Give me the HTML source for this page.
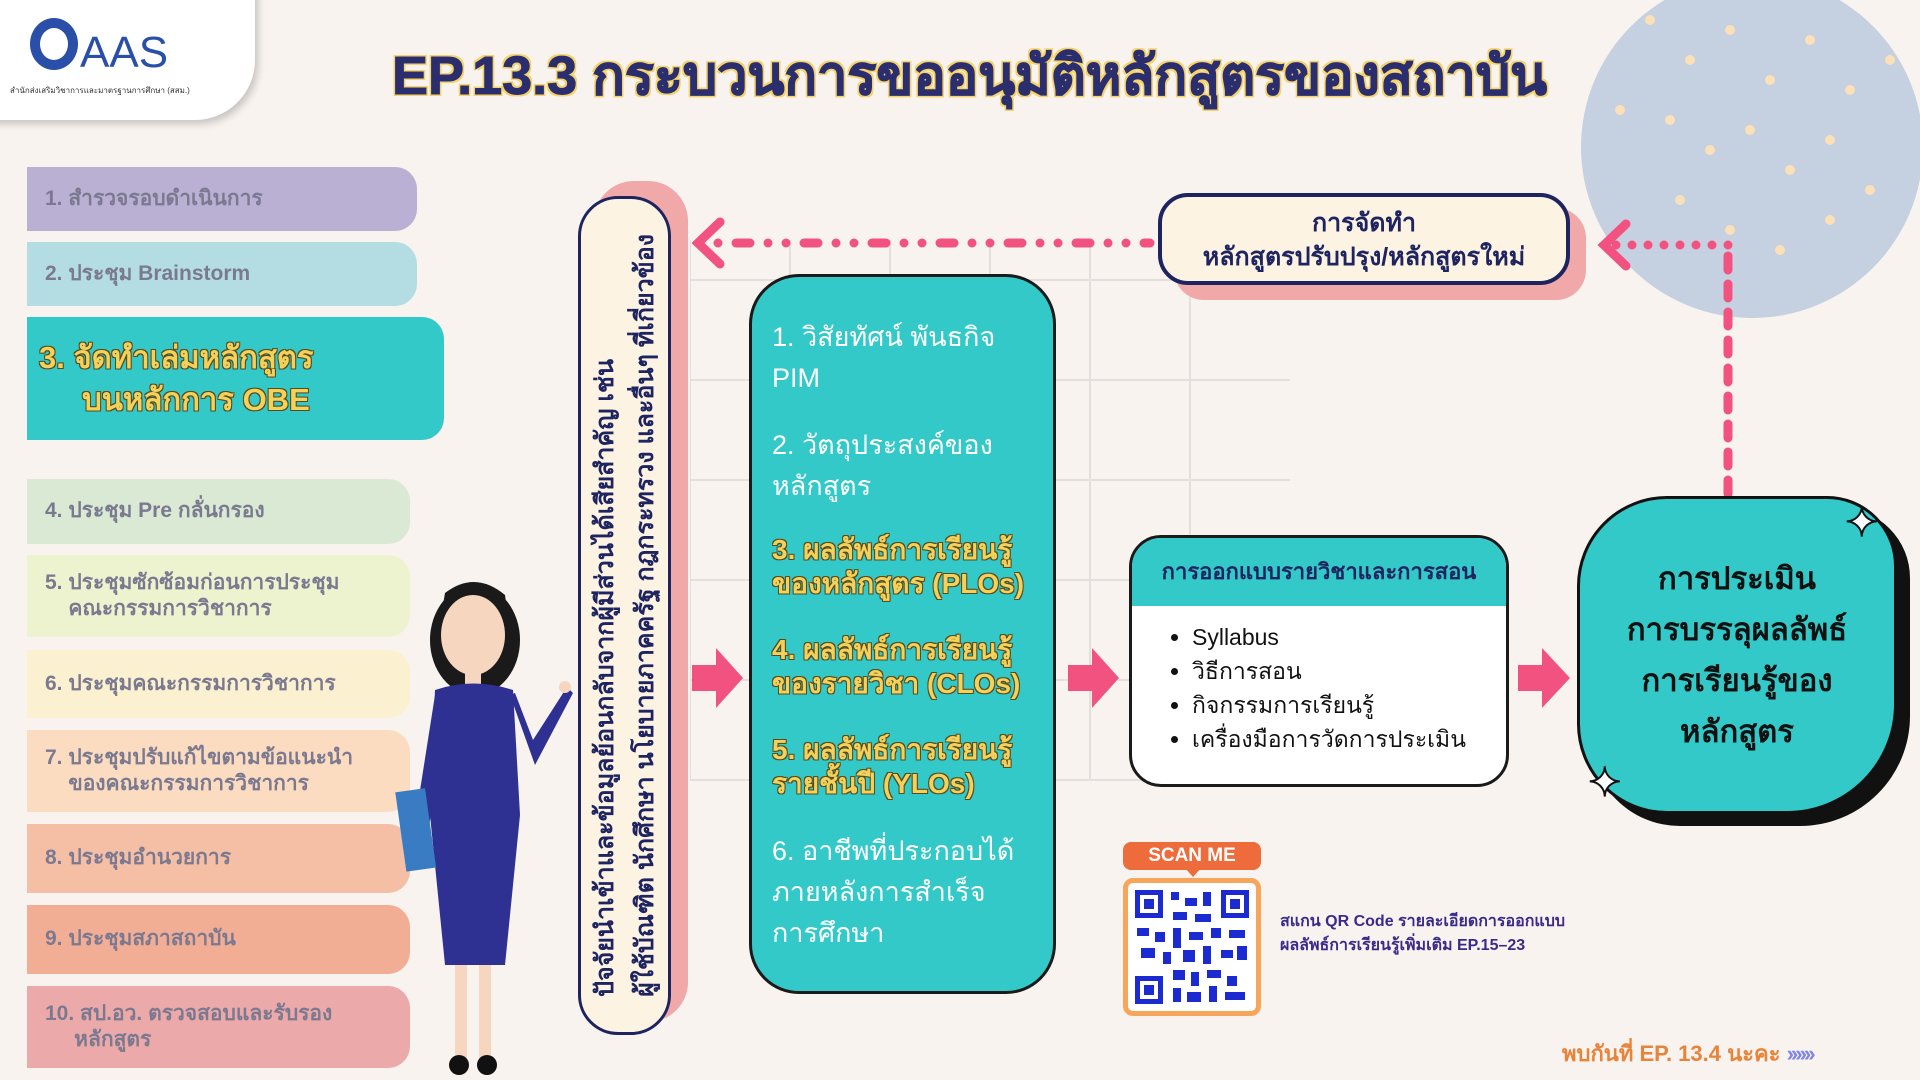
<!DOCTYPE html>
<html><head><meta charset="utf-8"><style>
*{margin:0;padding:0;box-sizing:border-box}
body{width:1920px;height:1080px;background:#f8f3ef;position:relative;overflow:hidden;font-family:"Liberation Sans","Noto Sans CJK SC","WenQuanYi Zen Hei",sans-serif}
.a{position:absolute}
.item{position:absolute;left:27px;border-radius:0 22px 22px 0;color:#7b7990;font-size:21px;font-weight:bold;padding-left:18px;display:flex;align-items:center;line-height:1.25}
.t{color:#fff;font-size:27px;line-height:41px}
.y{color:#f3d25c;font-weight:bold;font-size:28px;line-height:34px;text-shadow:1px 1px 0 #5a4a1a,-1px -1px 0 #5a4a1a,1px -1px 0 #5a4a1a,-1px 1px 0 #5a4a1a}
</style></head><body>
<svg class="a" style="left:690px;top:180px" width="900" height="680">
<g stroke="#e3dfdc" stroke-width="2">
<line x1="0" y1="100" x2="600" y2="100"/><line x1="0" y1="200" x2="600" y2="200"/><line x1="0" y1="300" x2="600" y2="300"/><line x1="0" y1="400" x2="600" y2="400"/><line x1="0" y1="500" x2="600" y2="500"/><line x1="0" y1="600" x2="600" y2="600"/>
<line x1="0" y1="60" x2="0" y2="600"/><line x1="100" y1="60" x2="100" y2="600"/><line x1="200" y1="60" x2="200" y2="600"/><line x1="300" y1="60" x2="300" y2="600"/><line x1="400" y1="60" x2="400" y2="600"/><line x1="500" y1="60" x2="500" y2="600"/></g></svg>
<div class="a" style="left:1581px;top:-24px;width:342px;height:342px;border-radius:50%;background:#c5d1e0"></div>
<svg class="a" style="left:1590px;top:0" width="330" height="330"><g fill="#fbe0b8">
<circle cx="60" cy="20" r="5"/><circle cx="100" cy="60" r="5"/><circle cx="140" cy="30" r="5"/><circle cx="180" cy="80" r="5"/><circle cx="220" cy="40" r="5"/><circle cx="260" cy="90" r="5"/><circle cx="80" cy="120" r="5"/><circle cx="120" cy="150" r="5"/><circle cx="160" cy="130" r="5"/><circle cx="200" cy="170" r="5"/><circle cx="240" cy="140" r="5"/><circle cx="280" cy="190" r="5"/><circle cx="90" cy="200" r="5"/><circle cx="140" cy="230" r="5"/><circle cx="190" cy="250" r="5"/><circle cx="240" cy="220" r="5"/><circle cx="300" cy="60" r="5"/><circle cx="30" cy="110" r="5"/></g></svg>
<div class="a" style="left:-20px;top:-20px;width:275px;height:140px;background:#fff;border-radius:0 0 60px 0;box-shadow:3px 4px 8px rgba(0,0,0,.2)"></div>
<div class="a" style="left:30px;top:18px;width:48px;height:52px;border:10px solid #2a4fa8;border-radius:50%"></div>
<div class="a" style="left:80px;top:28px;font-size:44px;color:#2a4fa8">AAS</div>
<div class="a" style="left:10px;top:84px;font-size:8px;color:#333">สำนักส่งเสริมวิชาการและมาตรฐานการศึกษา (สสม.)</div>
<div class="a" style="left:392px;top:32px;font-size:54px;font-weight:bold;color:#2b2e6e;-webkit-text-stroke:1px #2b2e6e;text-shadow:2px 2px 0 #f5d36a,-2px -2px 0 #f5d36a,2px -2px 0 #f5d36a,-2px 2px 0 #f5d36a;white-space:nowrap">EP.13.3 กระบวนการขออนุมัติหลักสูตรของสถาบัน</div>
<div class="item" style="top:167px;width:390px;height:64px;background:#b9b0d3">1. สำรวจรอบดำเนินการ</div>
<div class="item" style="top:242px;width:390px;height:64px;background:#b3dde3">2. ประชุม Brainstorm</div>
<div class="item" style="top:317px;width:417px;height:123px;background:#33c9c9;font-size:31px;color:#f3d25c;text-shadow:1px 1px 0 #5a4a1a,-1px -1px 0 #5a4a1a,1px -1px 0 #5a4a1a,-1px 1px 0 #5a4a1a;line-height:42px;padding-left:12px">3. จัดทำเล่มหลักสูตร<br>&nbsp;&nbsp;&nbsp;&nbsp;&nbsp;บนหลักการ OBE</div>
<div class="item" style="top:479px;width:383px;height:65px;background:#d9e9d3">4. ประชุม Pre กลั่นกรอง</div>
<div class="item" style="top:555px;width:383px;height:82px;background:#eef3cf">5. ประชุมซักซ้อมก่อนการประชุม<br>&nbsp;&nbsp;&nbsp;&nbsp;คณะกรรมการวิชาการ</div>
<div class="item" style="top:650px;width:383px;height:68px;background:#fbf0cf">6. ประชุมคณะกรรมการวิชาการ</div>
<div class="item" style="top:730px;width:383px;height:82px;background:#fbdcc0">7. ประชุมปรับแก้ไขตามข้อแนะนำ<br>&nbsp;&nbsp;&nbsp;&nbsp;ของคณะกรรมการวิชาการ</div>
<div class="item" style="top:824px;width:383px;height:69px;background:#f5bfa6">8. ประชุมอำนวยการ</div>
<div class="item" style="top:905px;width:383px;height:69px;background:#f2ad95">9. ประชุมสภาสถาบัน</div>
<div class="item" style="top:986px;width:383px;height:82px;background:#eba9a9">10. สป.อว. ตรวจสอบและรับรอง<br>&nbsp;&nbsp;&nbsp;&nbsp;&nbsp;หลักสูตร</div>
<svg class="a" style="left:395px;top:565px" width="190" height="515">
<ellipse cx="80" cy="75" rx="45" ry="55" fill="#1a1a1a"/>
<ellipse cx="78" cy="70" rx="32" ry="40" fill="#f7d6c0"/>
<path d="M48 40 Q78 15 112 45 L110 30 Q80 5 50 28Z" fill="#1a1a1a"/>
<rect x="70" y="105" width="16" height="22" fill="#f7d6c0"/>
<path d="M40 125 Q78 112 118 125 L125 250 L110 400 L50 400 L35 250Z" fill="#2f3192"/>
<path d="M40 130 L18 270 L32 272 L52 160Z" fill="#2f3192"/>
<path d="M115 130 L140 200 L178 128 L172 122 L138 175 L120 128Z" fill="#2f3192"/>
<rect x="5" y="225" width="30" height="80" fill="#3a7cc4" transform="rotate(-8 20 260)"/>
<rect x="60" y="400" width="12" height="95" fill="#f7d6c0"/><rect x="84" y="400" width="12" height="95" fill="#f7d6c0"/>
<ellipse cx="64" cy="500" rx="10" ry="10" fill="#111"/><ellipse cx="92" cy="500" rx="10" ry="10" fill="#111"/>
<circle cx="170" cy="122" r="6" fill="#f7d6c0"/>
</svg>
<div class="a" style="left:594px;top:181px;width:94px;height:841px;background:#f0a8a8;border-radius:40px"></div>
<div class="a" style="left:578px;top:196px;width:93px;height:839px;background:#fdf3e3;border:3px solid #1e2460;border-radius:40px"></div>
<div class="a" style="left:578px;top:196px;width:93px;height:839px;display:flex;align-items:center;justify-content:center">
<div style="writing-mode:vertical-rl;transform:rotate(180deg);font-size:25px;font-weight:bold;color:#1e2460;line-height:40px;white-space:nowrap">ปัจจัยนำเข้าและข้อมูลย้อนกลับจากผู้มีส่วนได้เสียสำคัญ เช่น<br>ผู้ใช้บัณฑิต นักศึกษา นโยบายภาคครัฐ กฎกระทรวง และอื่นๆ ที่เกี่ยวข้อง</div></div>
<div class="a" style="left:749px;top:274px;width:307px;height:720px;background:#33c9c9;border:3px solid #1a1a1a;border-radius:50px;padding:40px 0 0 20px">
<div class="t">1. วิสัยทัศน์ พันธกิจ<br>PIM</div>
<div class="t" style="margin-top:26px">2. วัตถุประสงค์ของ<br>หลักสูตร</div>
<div class="y" style="margin-top:26px">3. ผลลัพธ์การเรียนรู้<br>ของหลักสูตร (PLOs)</div>
<div class="y" style="margin-top:32px">4. ผลลัพธ์การเรียนรู้<br>ของรายวิชา (CLOs)</div>
<div class="y" style="margin-top:32px">5. ผลลัพธ์การเรียนรู้<br>รายชั้นปี (YLOs)</div>
<div class="t" style="margin-top:30px">6. อาชีพที่ประกอบได้<br>ภายหลังการสำเร็จ<br>การศึกษา</div>
</div>
<div class="a" style="left:1174px;top:208px;width:412px;height:92px;background:#f0a8a8;border-radius:30px"></div>
<div class="a" style="left:1158px;top:193px;width:412px;height:92px;background:#fdf3e3;border:4px solid #1e2460;border-radius:30px;text-align:center;color:#1e2460;font-weight:bold;font-size:25px;line-height:34px;padding-top:9px">การจัดทำ<br>หลักสูตรปรับปรุง/หลักสูตรใหม่</div>
<svg class="a" style="left:0;top:0" width="1920" height="1080">
<g stroke="#f2527f" stroke-width="9" stroke-linecap="round" fill="none">
<line x1="700" y1="243" x2="1150" y2="243" stroke-dasharray="0 18 0 18 14 18"/>
<polyline points="720,222 698,243 720,264"/>
<line x1="1728" y1="494" x2="1728" y2="250" stroke-dasharray="14 14"/>
<line x1="1728" y1="245" x2="1610" y2="245" stroke-dasharray="0 16"/>
<polyline points="1626,224 1604,245 1626,266"/>
</g>
<g fill="#f2527f">
<polygon points="692,665 716,665 716,648 743,678 716,708 716,691 692,691"/>
<polygon points="1068,665 1092,665 1092,648 1119,678 1092,708 1092,691 1068,691"/>
<polygon points="1518,665 1542,665 1542,648 1570,678 1542,708 1542,691 1518,691"/>
</g></svg>
<div class="a" style="left:1129px;top:535px;width:380px;height:252px;background:#fff;border:3px solid #1a1a1a;border-radius:32px;overflow:hidden">
<div style="background:#33c9c9;height:68px;text-align:center;font-weight:bold;font-size:22px;color:#1e2460;line-height:68px">การออกแบบรายวิชาและการสอน</div>
<ul style="margin:14px 0 0 60px;font-size:23px;line-height:34px;color:#111">
<li>Syllabus</li><li>วิธีการสอน</li><li>กิจกรรมการเรียนรู้</li><li>เครื่องมือการวัดการประเมิน</li></ul></div>
<div class="a" style="left:1590px;top:508px;width:320px;height:318px;background:#111;border-radius:90px 70px 110px 90px"></div>
<div class="a" style="left:1577px;top:496px;width:320px;height:318px;background:#33c9c9;border:3px solid #111;border-radius:90px 70px 110px 90px;display:flex;align-items:center;justify-content:center;text-align:center;font-weight:bold;font-size:31px;line-height:51px;color:#111">การประเมิน<br>การบรรลุผลลัพธ์<br>การเรียนรู้ของ<br>หลักสูตร</div>
<div class="a" style="left:1845px;top:500px;font-size:40px;color:#fff;-webkit-text-stroke:2px #111">✦</div>
<div class="a" style="left:1588px;top:760px;font-size:40px;color:#fff;-webkit-text-stroke:2px #111">✦</div>
<div class="a" style="left:1123px;top:842px;width:138px;height:28px;background:#ee6b3b;border-radius:8px;color:#fff;font-weight:bold;font-size:19px;text-align:center;line-height:28px">SCAN ME</div>
<div class="a" style="left:1185px;top:868px;border:8px solid transparent;border-top:9px solid #ee6b3b"></div>
<div class="a" style="left:1123px;top:878px;width:138px;height:138px;border:5px solid #f6a55a;border-radius:10px;background:#fff"></div>
<svg class="a" style="left:1133px;top:888px" width="118" height="118">
<rect width="118" height="118" fill="#fff"/>
<g fill="#1b2ad1"><rect x="2" y="2" width="28" height="28"/><rect x="88" y="2" width="28" height="28"/><rect x="2" y="88" width="28" height="28"/></g>
<g fill="#fff"><rect x="7" y="7" width="18" height="18"/><rect x="93" y="7" width="18" height="18"/><rect x="7" y="93" width="18" height="18"/></g>
<g fill="#1b2ad1"><rect x="11" y="11" width="10" height="10"/><rect x="97" y="11" width="10" height="10"/><rect x="11" y="97" width="10" height="10"/>
<rect x="38" y="4" width="8" height="8"/><rect x="52" y="10" width="12" height="8"/><rect x="70" y="4" width="8" height="14"/><rect x="40" y="24" width="14" height="8"/><rect x="62" y="26" width="16" height="8"/>
<rect x="4" y="40" width="12" height="8"/><rect x="22" y="44" width="10" height="10"/><rect x="40" y="40" width="8" height="20"/><rect x="56" y="44" width="14" height="8"/><rect x="78" y="40" width="10" height="10"/><rect x="96" y="42" width="16" height="8"/>
<rect x="8" y="60" width="14" height="10"/><rect x="30" y="64" width="8" height="12"/><rect x="50" y="62" width="12" height="12"/><rect x="70" y="58" width="8" height="18"/><rect x="88" y="62" width="12" height="8"/><rect x="104" y="58" width="10" height="14"/>
<rect x="40" y="82" width="12" height="10"/><rect x="58" y="84" width="8" height="14"/><rect x="74" y="82" width="14" height="8"/><rect x="94" y="88" width="10" height="10"/><rect x="40" y="100" width="8" height="14"/><rect x="54" y="104" width="14" height="10"/><rect x="76" y="98" width="8" height="16"/><rect x="92" y="104" width="20" height="8"/></g></svg>
<div class="a" style="left:1280px;top:910px;font-size:16px;font-weight:bold;color:#3a2a8a;line-height:24px">สแกน QR Code รายละเอียดการออกแบบ<br>ผลลัพธ์การเรียนรู้เพิ่มเติม EP.15–23</div>
<div class="a" style="left:1562px;top:1036px;font-size:22px;font-weight:bold;color:#e8833a;white-space:nowrap">พบกันที่ EP. 13.4 นะคะ <span style="color:#7f86e6;letter-spacing:-3px">››››››</span></div>
</body></html>
